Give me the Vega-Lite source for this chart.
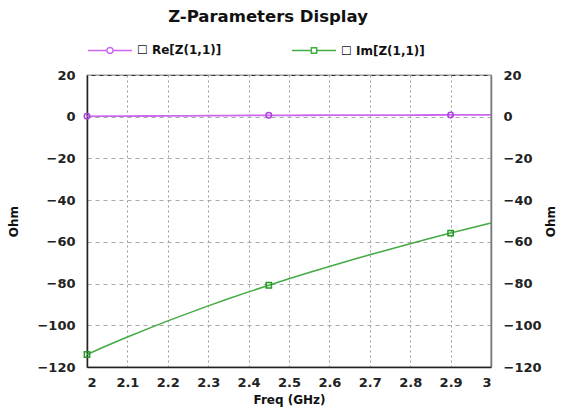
{
  "$schema": "https://vega.github.io/schema/vega-lite/v6.json",
  "width": 404,
  "height": 292,
  "autosize": {"type": "none"},
  "padding": {"left": 87, "top": 75, "right": 79, "bottom": 41},
  "background": "white",
  "title": {
    "text": "Z-Parameters Display",
    "font": "DejaVu Sans",
    "fontSize": 16.5,
    "fontWeight": "bold",
    "color": "#111",
    "anchor": "middle",
    "dx": -21,
    "offset": 2
  },
  "data": {
    "values": [
      {"f": 2.0, "s": "Re[Z(1,1)]", "v": 0.2},
      {"f": 2.05, "s": "Re[Z(1,1)]", "v": 0.25},
      {"f": 2.1, "s": "Re[Z(1,1)]", "v": 0.3},
      {"f": 2.15, "s": "Re[Z(1,1)]", "v": 0.35},
      {"f": 2.2, "s": "Re[Z(1,1)]", "v": 0.4},
      {"f": 2.25, "s": "Re[Z(1,1)]", "v": 0.45},
      {"f": 2.3, "s": "Re[Z(1,1)]", "v": 0.5},
      {"f": 2.35, "s": "Re[Z(1,1)]", "v": 0.55},
      {"f": 2.4, "s": "Re[Z(1,1)]", "v": 0.6},
      {"f": 2.45, "s": "Re[Z(1,1)]", "v": 0.65},
      {"f": 2.5, "s": "Re[Z(1,1)]", "v": 0.68},
      {"f": 2.55, "s": "Re[Z(1,1)]", "v": 0.7},
      {"f": 2.6, "s": "Re[Z(1,1)]", "v": 0.72},
      {"f": 2.65, "s": "Re[Z(1,1)]", "v": 0.74},
      {"f": 2.7, "s": "Re[Z(1,1)]", "v": 0.76},
      {"f": 2.75, "s": "Re[Z(1,1)]", "v": 0.78},
      {"f": 2.8, "s": "Re[Z(1,1)]", "v": 0.8},
      {"f": 2.85, "s": "Re[Z(1,1)]", "v": 0.82},
      {"f": 2.9, "s": "Re[Z(1,1)]", "v": 0.84},
      {"f": 2.95, "s": "Re[Z(1,1)]", "v": 0.86},
      {"f": 3.0, "s": "Re[Z(1,1)]", "v": 0.88},
      {"f": 2.0, "s": "Im[Z(1,1)]", "v": -114.0},
      {"f": 2.05, "s": "Im[Z(1,1)]", "v": -109.7},
      {"f": 2.1, "s": "Im[Z(1,1)]", "v": -105.6},
      {"f": 2.15, "s": "Im[Z(1,1)]", "v": -101.7},
      {"f": 2.2, "s": "Im[Z(1,1)]", "v": -97.9},
      {"f": 2.25, "s": "Im[Z(1,1)]", "v": -94.3},
      {"f": 2.3, "s": "Im[Z(1,1)]", "v": -90.7},
      {"f": 2.35, "s": "Im[Z(1,1)]", "v": -87.3},
      {"f": 2.4, "s": "Im[Z(1,1)]", "v": -84.0},
      {"f": 2.45, "s": "Im[Z(1,1)]", "v": -80.8},
      {"f": 2.5, "s": "Im[Z(1,1)]", "v": -77.7},
      {"f": 2.55, "s": "Im[Z(1,1)]", "v": -74.7},
      {"f": 2.6, "s": "Im[Z(1,1)]", "v": -71.8},
      {"f": 2.65, "s": "Im[Z(1,1)]", "v": -68.9},
      {"f": 2.7, "s": "Im[Z(1,1)]", "v": -66.2},
      {"f": 2.75, "s": "Im[Z(1,1)]", "v": -63.5},
      {"f": 2.8, "s": "Im[Z(1,1)]", "v": -60.9},
      {"f": 2.85, "s": "Im[Z(1,1)]", "v": -58.3},
      {"f": 2.9, "s": "Im[Z(1,1)]", "v": -55.8},
      {"f": 2.95, "s": "Im[Z(1,1)]", "v": -53.4},
      {"f": 3.0, "s": "Im[Z(1,1)]", "v": -51.0}
    ]
  },
  "layer": [
    {
      "transform": [{"filter": "datum.s == 'Im[Z(1,1)]'"}],
      "mark": {"type": "line", "strokeWidth": 1.5, "color": "#44aa44"},
      "encoding": {
        "x": {
          "field": "f", "type": "quantitative",
          "scale": {"domain": [2, 3], "nice": false, "zero": false},
          "axis": {
            "title": "Freq (GHz)",
            "values": [2, 2.1, 2.2, 2.3, 2.4, 2.5, 2.6, 2.7, 2.8, 2.9, 3],
            "format": "~g",
            "grid": true,
            "gridDash": [2, 3],
            "gridColor": "#999",
            "gridWidth": 1,
            "ticks": false,
            "labelPadding": 9,
            "titlePadding": 5,
            "domainColor": "#222",
            "domainWidth": 1.5
          }
        },
        "y": {
          "field": "v", "type": "quantitative",
          "scale": {"domain": [-120, 20], "nice": false, "zero": false},
          "axis": {
            "orient": "left",
            "title": "Ohm",
            "titleAngle": 270,
            "values": [-120, -100, -80, -60, -40, -20, 0, 20],
            "grid": true,
            "gridDash": [4, 4],
            "gridColor": "#aaa",
            "gridWidth": 1,
            "ticks": false,
            "labelPadding": 12,
            "titlePadding": 16,
            "domainColor": "#222",
            "domainWidth": 1.5
          }
        }
      }
    },
    {
      "transform": [{"filter": "datum.s == 'Re[Z(1,1)]'"}],
      "mark": {"type": "line", "strokeWidth": 1.8, "color": "#cc66ee"},
      "encoding": {
        "x": {"field": "f", "type": "quantitative", "axis": null},
        "y": {"field": "v", "type": "quantitative", "axis": null}
      }
    },
    {
      "transform": [
        {"filter": "datum.s == 'Re[Z(1,1)]' && (datum.f == 2 || datum.f == 2.45 || datum.f == 2.9)"}
      ],
      "mark": {"type": "point", "shape": "circle", "filled": false, "size": 30, "strokeWidth": 1.5, "color": "#aa44dd", "opacity": 1},
      "encoding": {
        "x": {"field": "f", "type": "quantitative", "axis": null},
        "y": {
          "field": "v", "type": "quantitative",
          "axis": {
            "orient": "right",
            "title": "Ohm",
            "titleAngle": 270,
            "values": [-120, -100, -80, -60, -40, -20, 0, 20],
            "grid": false,
            "ticks": false,
            "labelPadding": 12,
            "titlePadding": 16,
            "domainColor": "#777",
            "domainWidth": 1.5
          }
        }
      }
    },
    {
      "transform": [
        {"filter": "datum.s == 'Im[Z(1,1)]' && (datum.f == 2 || datum.f == 2.45 || datum.f == 2.9)"}
      ],
      "mark": {"type": "point", "shape": "square", "filled": false, "size": 28, "strokeWidth": 1.5, "color": "#229922", "opacity": 1},
      "encoding": {
        "x": {"field": "f", "type": "quantitative", "axis": null},
        "y": {"field": "v", "type": "quantitative", "axis": null}
      }
    },
    {
      "transform": [{"filter": "datum.f < 0"}],
      "mark": {"type": "point", "filled": false, "strokeWidth": 1.5, "opacity": 1},
      "encoding": {
        "x": {"field": "f", "type": "quantitative", "axis": null},
        "y": {"field": "v", "type": "quantitative", "axis": null},
        "color": {
          "field": "s", "type": "nominal",
          "scale": {"domain": ["Re[Z(1,1)]", "Im[Z(1,1)]"], "range": ["#cc66ee", "#44aa44"]},
          "legend": {
            "title": null,
            "orient": "none",
            "legendX": 0,
            "legendY": -48,
            "direction": "horizontal",
            "symbolSize": 1936,
            "symbolStrokeWidth": 1.5,
            "labelFont": "DejaVu Sans",
            "labelFontSize": 12,
            "labelFontWeight": "bold",
            "labelColor": "#111",
            "labelOffset": 4,
            "columnPadding": 67,
            "labelExpr": "'☐ ' + datum.label"
          }
        },
        "shape": {
          "field": "s", "type": "nominal",
          "scale": {
            "domain": ["Re[Z(1,1)]", "Im[Z(1,1)]"],
            "range": [
              "M-1,0H-0.14M0.14,0H1M-0.14,0A0.14,0.14 0 1,0 0.14,0A0.14,0.14 0 1,0 -0.14,0",
              "M-1,0H-0.12M0.12,0H1M-0.12,-0.12H0.12V0.12H-0.12Z"
            ]
          },
          "legend": {
            "title": null,
            "orient": "none",
            "legendX": 0,
            "legendY": -48,
            "direction": "horizontal",
            "symbolSize": 1936,
            "symbolStrokeWidth": 1.5,
            "labelFont": "DejaVu Sans",
            "labelFontSize": 12,
            "labelFontWeight": "bold",
            "labelColor": "#111",
            "labelOffset": 4,
            "columnPadding": 67,
            "labelExpr": "'☐ ' + datum.label"
          }
        }
      }
    }
  ],
  "resolve": {"axis": {"y": "independent", "x": "independent"}},
  "config": {
    "view": {"stroke": "#333", "strokeWidth": 1.2},
    "axis": {
      "labelFont": "DejaVu Sans",
      "labelFontSize": 13,
      "labelFontWeight": "bold",
      "labelColor": "#222",
      "titleFont": "DejaVu Sans",
      "titleFontSize": 12,
      "titleFontWeight": "bold",
      "titleColor": "#111"
    },
    "legend": {"padding": 0}
  }
}
